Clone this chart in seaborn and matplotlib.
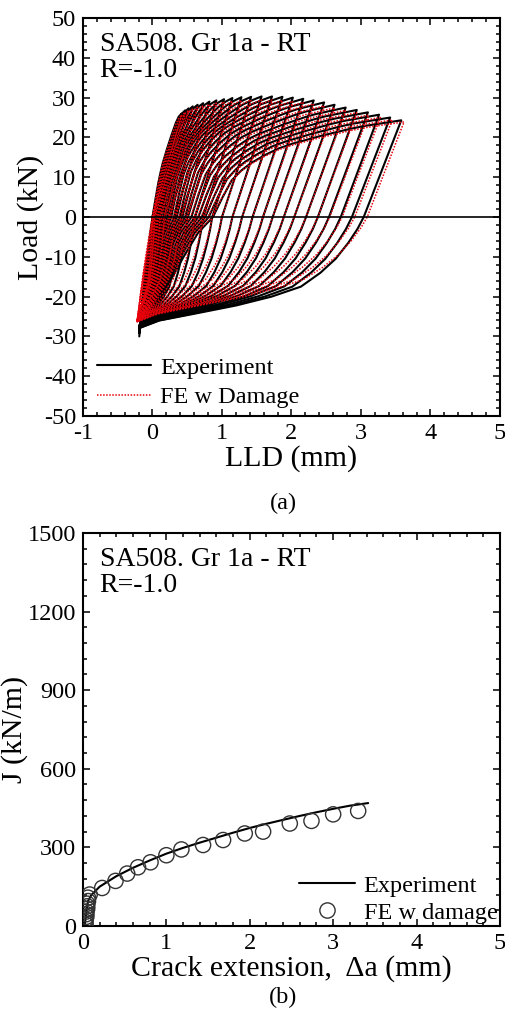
import numpy as np
import pandas as pd
import matplotlib
matplotlib.use("Agg")
import matplotlib.pyplot as plt
from matplotlib.ticker import MultipleLocator
from matplotlib.lines import Line2D
import seaborn as sns

# ---------------- (a) load - LLD hysteresis, one entry per cycle ----------------
LLD_PEAK_EXP = [0.42, 0.47, 0.52, 0.58, 0.65, 0.73, 0.82, 0.92, 1.03, 1.15, 1.28, 1.42, 1.57,
                1.72, 1.87, 2.02, 2.17, 2.32, 2.47, 2.62, 2.78, 2.94, 3.10, 3.26, 3.42, 3.58]
LOAD_PEAK_EXP = [26.0, 26.8, 27.3, 27.8, 28.2, 28.6, 29.0, 29.3, 29.6, 29.9, 30.1, 30.2, 30.3,
                 30.3, 30.2, 30.0, 29.7, 29.3, 28.8, 28.2, 27.5, 26.9, 26.3, 25.7, 25.0, 24.3]
LLD_UNLOAD0_EXP = [0.00, 0.03, 0.07, 0.11, 0.17, 0.24, 0.32, 0.41, 0.50, 0.61, 0.73, 0.86, 1.00,
                   1.15, 1.29, 1.44, 1.59, 1.73, 1.89, 2.04, 2.21, 2.38, 2.54, 2.71, 2.87, 3.04]
LLD_RELOAD0_EXP = [0.00, 0.01, 0.02, 0.04, 0.06, 0.08, 0.10, 0.12, 0.15, 0.18, 0.21, 0.24, 0.27,
                   0.31, 0.35, 0.39, 0.43, 0.47, 0.51, 0.56, 0.61, 0.66, 0.71, 0.76, 0.81, 0.87]
LOAD_MIN_EXP = [-30.0, -29.2, -28.8, -28.5, -28.3, -28.2, -28.0, -28.0, -27.9, -27.8, -27.8, -27.7, -27.7,
                -27.6, -27.6, -27.6, -27.5, -27.5, -27.5, -27.5, -27.6, -27.6, -27.7, -27.7, -27.8, -27.9]
LLD_MIN_EXP = -0.19

LLD_PEAK_FE = [0.42, 0.47, 0.52, 0.58, 0.65, 0.73, 0.82, 0.92, 1.03, 1.15, 1.28, 1.42, 1.57,
               1.72, 1.87, 2.02, 2.17, 2.32, 2.47, 2.62, 2.78, 2.94, 3.11, 3.28, 3.45, 3.62]
LOAD_PEAK_FE = [25.6, 26.3, 26.8, 27.2, 27.6, 28.0, 28.3, 28.6, 28.9, 29.1, 29.3, 29.4, 29.4,
                29.4, 29.3, 29.1, 28.8, 28.4, 27.9, 27.4, 26.8, 26.2, 25.6, 25.0, 24.4, 23.9]
LLD_UNLOAD0_FE = [0.00, 0.03, 0.07, 0.11, 0.17, 0.24, 0.32, 0.41, 0.50, 0.61, 0.73, 0.86, 1.00,
                  1.15, 1.29, 1.44, 1.59, 1.73, 1.89, 2.04, 2.21, 2.38, 2.55, 2.73, 2.91, 3.09]
LLD_RELOAD0_FE = [0.00, 0.01, 0.02, 0.03, 0.05, 0.07, 0.09, 0.11, 0.14, 0.17, 0.20, 0.23, 0.26,
                  0.30, 0.34, 0.38, 0.42, 0.46, 0.50, 0.55, 0.60, 0.65, 0.70, 0.75, 0.80, 0.86]
LOAD_MIN_FE = [-26.5, -26.3, -26.2, -26.1, -26.0, -26.0, -26.0, -26.0, -26.0, -26.0, -26.0, -26.0, -26.0,
               -26.0, -26.0, -26.0, -26.0, -26.0, -26.0, -26.0, -26.0, -26.1, -26.1, -26.2, -26.2, -26.3]
LLD_MIN_FE = -0.22

# how far each reload curve has turned from the sharp early shape to the rounded late shape
SHAPE_WEIGHT = [0.0, 0.0, 0.05, 0.1, 0.15, 0.2, 0.3, 0.4, 0.5, 0.6, 0.7, 0.8, 0.85,
                0.9, 0.95, 1.0, 1.0, 1.0, 1.0, 1.0, 1.0, 1.0, 1.0, 1.0, 1.0, 1.0]

# normalised branch shapes (first and last cycles)
NEG_U = [0.0, 0.2, 0.4, 0.6, 0.8, 1.0]
NEG_V_EARLY = [0.0, 0.25, 0.47, 0.66, 0.84, 1.0]
NEG_V_LATE = [0.0, 0.16, 0.40, 0.64, 0.86, 1.0]
POS_U = [0.0, 0.05, 0.1, 0.15, 0.2, 0.275, 0.35, 0.425, 0.5, 0.575, 0.65, 0.725, 0.8, 0.9, 1.0]
POS_V_EARLY = [0.0, 0.085, 0.17, 0.25, 0.33, 0.43, 0.52, 0.59, 0.66, 0.725, 0.79, 0.85, 0.91, 0.97, 1.0]
POS_V_LATE = [0.0, 0.2, 0.38, 0.48, 0.555, 0.64, 0.71, 0.76, 0.80, 0.84, 0.875, 0.91, 0.94, 0.97, 1.0]
COMP_U = [0.0, 0.028, 0.069, 0.125, 0.193, 0.28, 0.411, 0.567, 0.754, 0.91, 1.0]
COMP_V_EXP = [0.0, 0.108, 0.233, 0.376, 0.502, 0.627, 0.717, 0.796, 0.871, 0.932, 1.0]
COMP_V_FE = [0.0, 0.105, 0.225, 0.36, 0.48, 0.60, 0.69, 0.775, 0.855, 0.925, 1.0]

# ---------------- (b) J-R curve ----------------
DA_EXP = [0.02, 0.04, 0.06, 0.10, 0.20, 0.40, 0.60, 0.80, 1.00, 1.20, 1.40, 1.60, 1.80,
          2.00, 2.20, 2.40, 2.60, 2.80, 3.00, 3.20, 3.42]
J_EXP = [0, 50, 95, 118, 150, 190, 222, 250, 276, 298, 318, 337, 356,
         374, 390, 405, 420, 434, 447, 459, 469]
DA_FE = [0.03, 0.03, 0.03, 0.04, 0.04, 0.04, 0.05, 0.05, 0.05, 0.06, 0.06,
         0.08, 0.23, 0.39, 0.53, 0.66, 0.81, 1.00, 1.18, 1.44, 1.68, 1.94, 2.16, 2.48, 2.74, 3.00, 3.30]
J_FE = [5, 15, 25, 35, 45, 55, 65, 75, 85, 95, 108,
        120, 145, 172, 200, 224, 243, 270, 292, 309, 328, 353, 360, 391, 401, 426, 439]


def loop_table(x_min, p_min, x_r0, x_pk, p_pk, x_u0, comp_v):
    rows = []
    n = len(x_pk)
    neg_u, pos_u, comp_u = np.array(NEG_U), np.array(POS_U), np.array(COMP_U)
    for i in range(n):
        w = SHAPE_WEIGHT[i]
        pm, pm_next = p_min[i], p_min[min(i + 1, n - 1)]
        v_neg = (1 - w) * np.array(NEG_V_EARLY) + w * np.array(NEG_V_LATE)
        v_pos = (1 - w) * np.array(POS_V_EARLY) + w * np.array(POS_V_LATE)
        xs = np.concatenate([
            x_min + neg_u * (x_r0[i] - x_min),
            x_r0[i] + pos_u[1:] * (x_pk[i] - x_r0[i]),
            x_u0[i] + comp_u * (x_min - x_u0[i]),
        ])
        ps = np.concatenate([
            pm + v_neg * (0 - pm),
            v_pos[1:] * p_pk[i],
            np.array(comp_v) * pm_next,
        ])
        for k, (x, p) in enumerate(zip(xs, ps)):
            rows.append({"cycle": i, "order": k, "lld": x, "load": p})
    return pd.DataFrame(rows)


df_exp = loop_table(LLD_MIN_EXP, LOAD_MIN_EXP, LLD_RELOAD0_EXP, LLD_PEAK_EXP,
                    LOAD_PEAK_EXP, LLD_UNLOAD0_EXP, COMP_V_EXP)
df_fe = loop_table(LLD_MIN_FE, LOAD_MIN_FE, LLD_RELOAD0_FE, LLD_PEAK_FE,
                   LOAD_PEAK_FE, LLD_UNLOAD0_FE, COMP_V_FE)
df_jr_exp = pd.DataFrame({"da": DA_EXP, "J": J_EXP})
df_jr_fe = pd.DataFrame({"da": DA_FE, "J": J_FE})

sns.set_style("ticks")
plt.rcParams["font.family"] = ["Liberation Serif", "DejaVu Serif"]
plt.rcParams["axes.unicode_minus"] = False
for key in ["text.color", "axes.labelcolor", "xtick.color", "ytick.color"]:
    plt.rcParams[key] = "black"

TICK_FS = 17.5
LABEL_FS = 21.5
NOTE_FS = 20
LEG_FS = 17.5
RED = "#e8000b"

fig = plt.figure(figsize=(5.06, 10.30), dpi=100)
ax1 = fig.add_axes([0.164, 0.5961, 0.824, 0.3864])
ax2 = fig.add_axes([0.164, 0.1010, 0.824, 0.3816])


def style_axes(ax):
    for s in ax.spines.values():
        s.set_linewidth(1.5)
        s.set_color("black")
    ax.tick_params(which="both", direction="in", top=True, right=True,
                   width=1.1, colors="black", labelsize=TICK_FS, pad=5)
    ax.tick_params(which="major", length=5)
    ax.tick_params(which="minor", length=2.6)


# --- (a) ---
sns.lineplot(data=df_exp, x="lld", y="load", units="cycle", estimator=None, sort=False,
             color="black", linewidth=1.5, ax=ax1)
sns.lineplot(data=df_fe, x="lld", y="load", units="cycle", estimator=None, sort=False,
             color=RED, linewidth=1.1, linestyle=(0, (1, 1)), ax=ax1)
ax1.axhline(0, color="black", linewidth=1.2)
ax1.set_xlim(-1, 5)
ax1.set_ylim(-50, 50)
ax1.xaxis.set_major_locator(MultipleLocator(1))
ax1.xaxis.set_minor_locator(MultipleLocator(0.2))
ax1.yaxis.set_major_locator(MultipleLocator(10))
ax1.yaxis.set_minor_locator(MultipleLocator(2))
ax1.set_xlabel("LLD (mm)", fontsize=LABEL_FS, labelpad=1)
ax1.set_ylabel("Load (kN)", fontsize=LABEL_FS, labelpad=0)
style_axes(ax1)
ax1.text(0.04, 0.965, "SA508. Gr 1a - RT\nR=-1.0", transform=ax1.transAxes,
         ha="left", va="top", fontsize=NOTE_FS, linespacing=1.05)
h1 = [Line2D([], [], color="black", lw=1.5),
      Line2D([], [], color=RED, lw=1.1, linestyle=(0, (1, 1)))]
ax1.legend(h1, ["Experiment", "FE w Damage"], loc="lower left", bbox_to_anchor=(0.034, 0.02),
           frameon=False, fontsize=LEG_FS, handlelength=2.2, handletextpad=0.4,
           borderpad=0, borderaxespad=0, labelspacing=0.3)

# --- (b) ---
sns.lineplot(data=df_jr_exp, x="da", y="J", estimator=None, sort=False,
             color="black", linewidth=1.5, ax=ax2)
sns.scatterplot(data=df_jr_fe, x="da", y="J", marker="o", s=120, facecolor="none",
                edgecolor="#333333", linewidth=1.0, ax=ax2, zorder=3)
ax2.set_xlim(0, 5)
ax2.set_ylim(0, 1500)
ax2.xaxis.set_major_locator(MultipleLocator(1))
ax2.xaxis.set_minor_locator(MultipleLocator(0.2))
ax2.yaxis.set_major_locator(MultipleLocator(300))
ax2.yaxis.set_minor_locator(MultipleLocator(60))
ax2.set_xlabel("Crack extension,  \u0394a (mm)", fontsize=LABEL_FS, labelpad=1)
ax2.set_ylabel("J (kN/m)", fontsize=LABEL_FS, labelpad=0)
style_axes(ax2)
ax2.text(0.04, 0.965, "SA508. Gr 1a - RT\nR=-1.0", transform=ax2.transAxes,
         ha="left", va="top", fontsize=NOTE_FS, linespacing=1.05)
h2 = [Line2D([], [], color="black", lw=1.5),
      Line2D([], [], color="#333333", lw=0, marker="o", markersize=11,
             markerfacecolor="none", markeredgewidth=1.0)]
ax2.legend(h2, ["Experiment", "FE w damage"], loc="lower right", bbox_to_anchor=(1.0, 0.0),
           frameon=False, fontsize=LEG_FS, handlelength=2.3, handletextpad=0.35,
           borderpad=0.1, borderaxespad=0, labelspacing=0.2)

fig.text(0.56, 1 - 503 / 1030, "(a)", ha="center", va="center", fontsize=TICK_FS)
fig.text(0.56, 1 - 997 / 1030, "(b)", ha="center", va="center", fontsize=TICK_FS)

fig.savefig("out.png", dpi=100)
